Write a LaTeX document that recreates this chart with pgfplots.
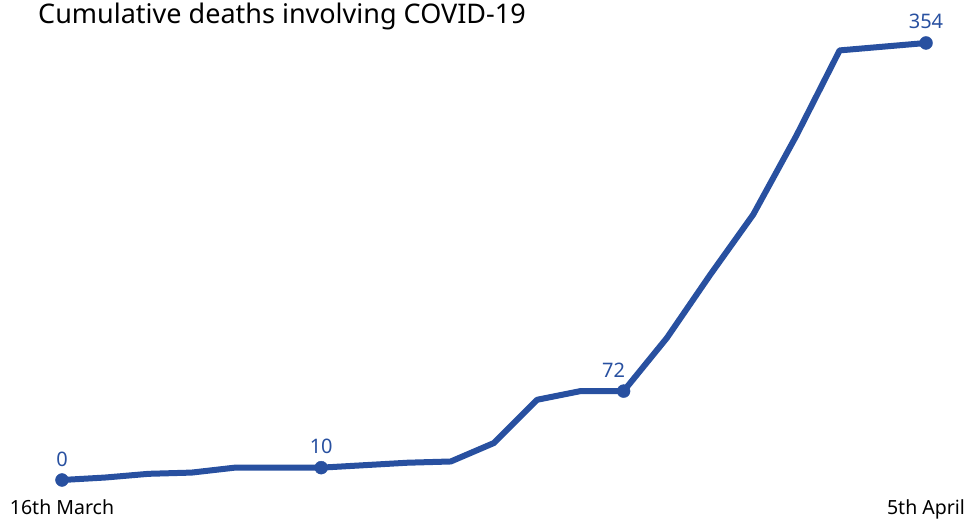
\documentclass[border=0pt]{standalone}
\usepackage{pgfplots}
\pgfplotsset{compat=1.18}
\usepackage{fontspec}
\setmainfont{Noto Sans}
\definecolor{covidblue}{RGB}{40,80,160}
\tikzset{labstyle/.style={font=\fontsize{20bp}{24bp}\selectfont, text=covidblue, anchor=base, inner sep=0pt, yshift=14bp}}
\begin{document}
\begin{tikzpicture}
\useasboundingbox (0,0) rectangle (966bp,519bp);
\node[anchor=base west, inner sep=0pt, font=\fontsize{27bp}{31bp}\selectfont]
  at (38bp,495bp) {Cumulative deaths involving COVID-19};
\begin{axis}[
  at={(62bp,39bp)}, anchor=origin,
  scale only axis,
  width=864bp, height=437bp,
  xmin=0, xmax=20, ymin=0, ymax=354,
  clip=false,
  axis line style={draw=none},
  major tick length=0pt,
  ymajorticks=false,
  xtick={0,20},
  xticklabels={16th March,5th April},
  xticklabel style={font=\fontsize{19.5bp}{24bp}\selectfont, anchor=base, inner sep=0pt, yshift=-34bp},
]
\addplot[covidblue, line width=6bp, line join=round] coordinates {
  (0,0) (1,2) (2,5) (3,6) (4,10) (5,10) (6,10) (7,12) (8,14) (9,15)
  (10,30) (11,65) (12,72) (13,72) (14,115) (15,166) (16,215) (17,279)
  (18,348) (19,351) (20,354)
};
\addplot[covidblue, only marks, mark=*, mark size=6.5bp,
  point meta=explicit symbolic, nodes near coords,
  every node near coord/.append style={labstyle}]
  coordinates {(0,0) [0] (6,10) [10] (20,354) [354]};
\addplot[covidblue, only marks, mark=*, mark size=6.5bp,
  point meta=explicit symbolic, nodes near coords,
  every node near coord/.append style={labstyle, xshift=-10bp}]
  coordinates {(13,72) [72]};
\end{axis}
\end{tikzpicture}
\end{document}
